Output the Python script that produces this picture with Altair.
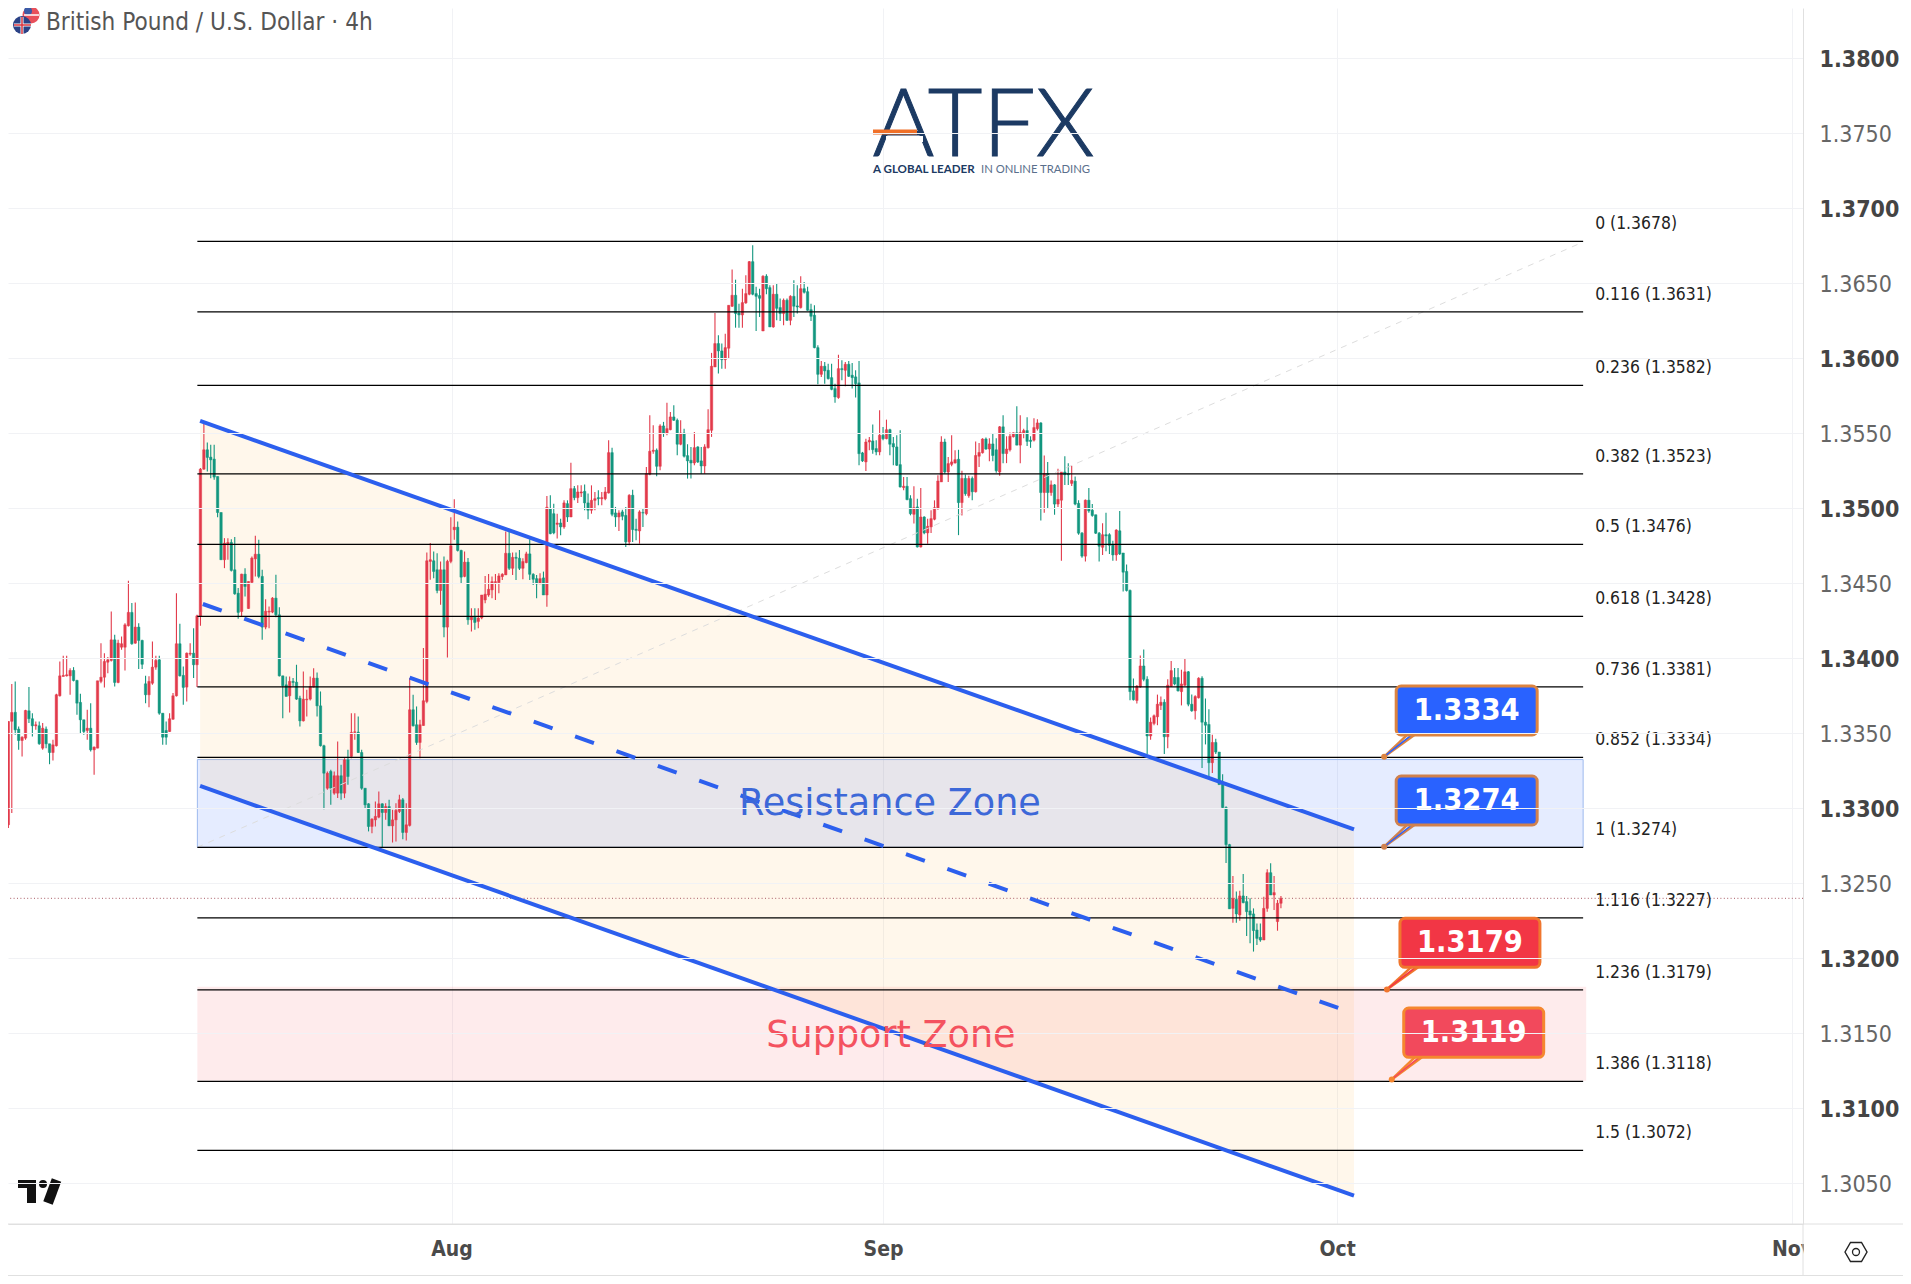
import altair as alt
import pandas as pd

# Candles as (open, high, low, close), in pips above 1.3000
JUL_CANDLES = [
(273.9,283.4,265.7,277.9),(278,294.6,276.8,289.7),(289,358,286.8,357.9),(358,382.8,296.8,363.9),(364,384.6,349,352.3),
(352.8,354.6,339,345.2),(345.2,348,334.6,347.4),(346.8,365.7,345.7,365.2),(365,380.8,356.8,359.7),(359.7,363.4,347.9,355),
(355,357.9,352.3,355.7),(355,357.9,342.3,343),(340.1,356.8,339,353.4),(352.8,354.6,340.1,343),(343,343,329.4,337.2),
(337.2,345.7,331.9,342.3),(341.7,376.3,341.2,375.7),(375,397.9,374.6,388.3),(387.9,401.7,387.9,388.6),(388.3,401.7,387.9,389),
(388.3,393.4,375.7,391.9),(391.9,394.1,384.6,385.2),(385.2,385.7,362.3,370.1),(370.6,376.3,350.1,359),(359,359,349,351.2),
(351.9,365.7,345.7,353.4),(353.4,370.1,337.9,339),(339,341.2,322.3,340.8),(340.1,385,340.1,385),(384.6,410.1,383.4,387.4),
(387.4,403.4,380.6,397.9),(397.4,400.8,390.1,399),(398.6,431.2,397.9,412.3),(412.3,415.7,381.2,383.9),(383.9,412.3,383.4,410.1),
(407.4,414.6,405.7,409.7),(407.4,423.4,391.9,422.3),(421.7,451.7,421.2,430.6),(430.6,436.8,409,409.7),(410.1,437.2,409.7,420.8),
(420.8,423.4,392.8,411.9),(411.9,412.3,392.8,396),(383,388.3,370.1,375.7),(375.7,388,367.4,384.6),(383.4,411.2,382.3,394.1),
(394.1,401.7,392.3,398.6),(399,401.7,362.3,363.4),(363.4,363.4,342.3,347.4),(351.9,357.9,342.3,347.4),(351.2,363.4,350.8,359.7),
(359.4,376.8,359,375),(375,443.4,374.6,409.7),(409.7,423,387.9,388.3),(388.6,394.6,369,380.6),(380.8,403.9,371.2,403.4),
(402.8,410.1,401.7,403.4),(403.4,420.1,386.8,395.7),(395.7,429,380.8,428.3),(427.9,526.8,421.7,526.1),(526.1,557.9,525.7,539),
(539,543.9,524.6,533.9),(534.1,542.3,520.1,532.3),(532.8,542.3,519,520.8),(521.2,521.2,494.1,497.2),(497.2,497.2,465.7,465.7),
(465.7,480.1,460.1,476.8),(476.3,480.1,465.7,477.2),(477.2,479.4,457.9,458.6),(459,480.8,442.3,443),(443.4,446.8,426.3,430.6),
(431.2,456.3,427.9,456.1),(456.1,460.1,441.2,447.9),(433.2,451.2,433,451.2),(450.6,467.9,450.1,466.8),(466.3,481.7,454.6,469.4),
(469.4,479,453.4,454.6),(454.6,459,412.3,420.8),(420.8,439.4,419.4,431.4),(430.8,434.6,420.1,431.4),(430.8,440.8,430.1,440.1),
(440.1,455.7,427.4,429),(429,434.1,387.9,388.3),(388.3,388.3,360.1,381.7),(382.3,387.9,374.6,374.6),(375,387.9,363.9,384.6),
(384.6,386.8,381.2,383.9),(384.1,395.7,372.3,372.8),(373.4,375,354.6,358.3),(358.3,391.2,357.9,372.8),(372.3,379,361.2,372.8),
(372.8,387.9,371.9,381.2),(380.8,393.4,380.6,386.8),(386.8,390.6,361.2,368.3),(368.3,377.9,341.2,341.7),(341.7,342.3,299.4,323.4),
(313.4,324.6,312.3,323.4),(324.6,325.7,302.3,313.4),(310.1,324.6,309,321.7),(310.1,344.6,306.8,321.7),(321.7,329,305.7,310.1),
(310.1,333.4,306.8,332.3),(332.3,339,315.7,321.2),(334.6,363.4,333.4,350.6),(350.6,363.4,345.7,351),(350.8,361.2,336.8,337.2),
(337.2,339,312.3,313.4),(313.4,313.4,300.1,302.3),(303,303.4,284.6,287.9),(287.9,293.4,283.4,292.8),(292.3,304.6,287.9,294.6),
(294.1,311.2,293.4,303),(303,303.4,274.1,297.2),(297.2,303.4,292.3,301.2),(301.2,305.7,288.3,288.3),(288.3,299,277.2,292.3),
(292.3,303.4,277.9,298.6),(297.9,309,296.8,305.7),(305.7,306.8,279.4,283.9),(283.9,303.4,278.6,289),(288.6,386.8,287.9,365.7),
(365.7,375.7,354.6,355),(355.7,367.9,342.3,343.9),(343.9,359,333.4,355.7),(355.2,406.8,355,371.7),(371.2,470.6,370.1,465),
(464.6,476.8,452.3,465.7),(465,471.2,453.4,457.9),(459,470.1,443.4,445.2),(445.2,464.6,435.7,459),(459,467.9,414,420.8),
(420.8,465.7,400.6,464.6),
]
AUG_CANDLES = [
(464.6,494.1,463.4,475),(485.7,506.1,479,487.4),(487.4,491.2,471.2,471.9),(471.9,472.3,450.1,454.1),(454.6,471.2,454.1,464.1),
(464.1,466.8,422.3,425.7),(425.7,433.4,417.9,427.9),(427.4,433.4,419,423.9),(424.6,433.4,420,426.8),(427,442.2,426,442.2),
(438.9,454.9,436.7,442.7),(442.2,456.2,441.1,446),(445.6,454.5,440,451.1),(450.4,456.2,438.9,451.1),(450.4,456.7,443.3,454.9),
(454.5,456.7,452.2,456),(455.6,484.5,455.6,470),(470,484.5,458.9,460),(460,470.5,455.6,467.3),(467.3,470.5,452.2,466.7),
(466.7,472.2,458.9,460),(460,466.7,452.7,464.5),(463.8,471.1,463.3,469.6),(469.6,479.3,452.2,456),(456,456.7,448.9,452.7),
(453.1,455.6,440,449.6),(449.6,456.7,449.6,453.1),(453.6,457.8,442.2,442.2),(442.2,508.2,434.4,500.7),(499.8,508.7,482.7,483.1),
(496.4,503.1,482.7,483.6),(489.3,496.4,479.8,490.2),(490.2,493.1,482,487.6),(487.6,505.3,486.4,503.6),(503.1,505.3,490.9,494.2),
(494.2,530.4,494.2,513.1),(513.1,514.9,505.3,507.1),(507.1,515.3,503.6,510.9),(510.2,515.3,507.6,510.9),(511.3,515.8,498.7,503.6),
(503.6,509.8,492.7,498.7),(498.7,515.3,496.4,505.3),(505.3,510.9,498.7,506.4),(507.1,512,502,506.4),(506.4,510.9,502,507.1),
(506.4,514.2,505.3,510.9),(510.2,545.3,509.8,537.1),(537.1,540.4,494.7,496),(496.9,500.9,487.6,494.2),(494.2,498.7,484.9,496.9),
(497.6,499.1,492,494.7),(495.3,500.9,474.2,477.6),(477.6,509.3,475.3,508.7),(508.7,512.4,477.6,485.8),(486,493.1,478.7,485.3),
(484.9,498.7,476.4,497.6),(497.1,499.8,487.6,496.9),(496.4,527.6,495.3,523.1),(522.7,562,522,538),(538,555.3,536.4,538.7),
(538.7,539.8,521.3,528),(528,556,525.3,554.9),(554.9,557.6,547.6,550.2),(550.2,570.4,548.7,553.1),(552.4,564.2,552,560.9),
(560.9,568.7,558.2,558.7),(558.7,559.8,535.3,542.7),(542.7,558.7,542,550.2),(550.2,553.1,533.8,534.7),(535.1,542.7,519.8,531.6),
(532,540.9,519.8,530.2),(530.2,550.9,528.7,540.4),(540.9,541.3,530.2,530.9),(531.6,540.9,523.1,528.2),(528.2,542.7,523.1,540.9),
(540.4,566,539.8,552.4),(552,603.6,547.6,594.7),(594.2,630.2,594.2,609.8),(609.8,615.3,589.8,604.9),(604.9,609.8,593.1,599.1),
(599.1,616.4,593.1,607.1),(606.7,635.3,599.8,635.3),(634.7,659.1,634.2,642),(642,652.4,620.4,629.8),(630.2,636.4,620.4,628.9),
(628.9,646.4,620.4,637.1),(636.9,655.3,636.4,643.1),(642.7,664.9,642,664.4),(664.4,675.3,642,642.7),(643.1,647.6,618.2,641.3),
(641.8,646.4,627.6,640),(618.2,655.3,618.2,654.7),(654.7,656,642.7,646.4),(647.1,648.7,620.9,620.9),(620.9,648.7,620.4,642.7),
(642.7,649.8,625.3,633.3),(633.8,639.8,624.9,629.8),(629.8,639.8,622,638.7),(638.7,639.8,624.9,625.3),(625.3,642,622,641.3),
(641.3,652,627.6,634.7),(634.9,648.7,629.8,634.2),(633.8,654.7,633.1,646.4),(646.4,650.9,643.1,644),(644.4,647.6,631.6,632),
(632.4,636.4,624.9,628),(628.7,635.3,606.7,607.1),(607.1,608.7,582.7,589.3),(589.3,598.2,587.6,594.7),(594.7,597.6,583.1,591.6),
(592,596.4,585.8,586.4),(587.1,596.4,578.7,579.3),(579.8,583.1,570.4,574.2),(573.8,602.4,573.1,593.1),(593.1,598.7,585.3,592.4),
(592,597.6,581.3,596),(596,598.2,587.6,588),(588.7,596.9,579.8,587.1),(587.6,592,573.8,583.1),(583.6,598.2,528.7,536.4),
(536.9,537.6,530.9,531.6),(530.9,546.4,524.9,544.2),(544.2,547.6,538.7,545.3),(544.9,555.8,536.4,539.1),(539.8,545.3,535.3,537.6),
(537.6,565.3,535.3,548.7),
]
SEP_CANDLES = [
(548.7,554.2,545.3,546.4),(546.4,559.1,546,552.4),(552.4,553.1,535.3,542.7),(543.1,547.6,528.7,540.9),(540.9,548.7,528.2,528.7),
(529.1,552,513.8,514.2),(513.8,520.9,512,514.7),(514.7,520.9,505.3,505.8),(506.4,508.7,495.3,496.4),(496,514.7,489.8,500.4),
(500.9,506.4,473.8,474.2),(474.2,513.6,473.8,494.2),(494.2,494.7,482.7,483.6),(483.6,493.1,476.4,488),(487.6,498.7,483.6,493.1),
(492.7,505.3,492,500.4),(499.8,522,499.1,518.2),(517.6,548,517.6,544.2),(544.2,546.4,523.1,524.2),(524.2,534.2,517.6,529.8),
(529.3,548.7,528,530.9),(530.2,538.7,529.8,532.4),(532.7,539,482.1,503.8),(503.8,525,495.2,519.9),(519.9,522.5,508.4,509.7),
(508.4,521.7,507.1,519.9),(519.9,521.2,505.4,511),(511,544.6,510.5,535.2),(534.7,543.6,527.6,537.2),(537,546.7,536.5,546.2),
(546.2,547.2,539,539.5),(539.5,546.7,531.4,542.9),(542.9,549.8,531.4,535.2),(539,546.7,523.7,525),(524.2,554.9,521.7,554.3),
(554.3,562,530.1,536.5),(536.5,548,530.1,539.5),(539,550.5,537.8,548),(547.7,550.5,547.2,550.3),(550.3,568.1,542.1,542.1),
(542.1,562,530.1,550.5),(550,553,546.7,551.8),(551.8,560.7,541.6,544.6),(545.4,548,540.3,544.6),(545.4,560,544.6,553.8),
(553.1,559.4,551.8,556.9),(556.9,557.4,491.8,510.5),(510.5,535.2,497,523.2),(523.2,530.9,499.5,510.5),(510.5,518.6,508.4,515.6),
(515.6,516.1,495.7,502.8),(502.8,526.3,500.8,505.9),(505.4,524.2,465,524.2),(524.2,534.7,515.6,522.4),(523,530.1,515.6,522.4),
(516.6,528.3,514.8,518.6),(518.1,521.2,502,502.8),(503.3,505.4,482.4,483.4),(483.4,484.2,467.1,468.1),(468.1,505.9,464.5,505.4),
(505.4,513.5,497,498.2),(498.7,502.8,494.4,495.2),(495.7,495.7,482.9,483.4),(483.4,484.2,464.5,474.7),(474,490,468.9,482.4),
(482.4,497,471.4,481.6),(482.4,483.4,469.6,475.3),(475.8,478.3,465,468.9),(468.9,486,465,485.5),(485,498.2,468.9,469.6),
(470.2,470.2,444.6,457.4),(457.9,462.5,444.6,445.2),(445.2,445.9,372,377.8),(378.3,386.5,371.9,372.4),(371.9,382.2,369.9,381.4),
(380.9,401.8,380.4,394.9),(394.9,405.9,384.7,386),(386,388,336.2,348.2),(348.2,360.5,345.7,357.4),(356.6,362.5,355.4,361.7),
(361,375.8,355.4,369.4),(368.6,374.5,365.6,370.7),(370.7,372.7,336.2,347.7),(347.7,386,340,382.1),(381.4,398.2,380.9,391.8),
(387.2,393.6,382.1,382.9),(387.2,393.6,377.8,378.3),(377.8,392.4,368.6,382.9),(382.1,400,381.4,391),(391,391.6,368.1,369.4),
(369.4,375.8,364.3,365),(365,375.3,359.2,374.5),(373.7,387.3,373.2,386.7),(386.7,388,326.8,357.4),(357.4,373.2,342.6,355.4),
(355.9,366.1,320.9,330.4),(330.4,349,323.5,343.9),(343.9,346.4,336.2,337.5),(337.5,337.5,315.8,315.8),(317.1,322.7,299.8,300.5),
(300.5,301.3,263.5,275.8),(275.8,276.3,233,233),(233.3,254.9,223.8,240),(239.3,244.5,223.8,229.6),(228.9,245.1,225.1,241.6),
(241.6,256.2,236.7,237.1),(237.8,241.6,214.9,231.1),(231.6,240,210,228.9),(229.6,233.3,204.5,218.5),(218.9,223.3,208.9,213.3),
(214,223.3,211.1,212.2),(212.2,241.1,212.2,233.3),(233.3,259.3,231.1,257.1),(257.1,263.3,242.2,242.2),(242.2,254.9,232.2,243.8),
(224.5,238.9,218.4,236.7),(236.7,241.6,233.3,240),
]

PRICE_TICKS = [1.305, 1.31, 1.315, 1.32, 1.325, 1.33, 1.335, 1.34, 1.345, 1.35, 1.355, 1.36, 1.365, 1.37, 1.375, 1.38]
MONTH_NAMES = ["Aug", "Sep", "Oct", "Nov"]
MONTH_BARS = [131.2, 257, 389.4, 522]

FIB_RATIOS = ["0", "0.116", "0.236", "0.382", "0.5", "0.618", "0.736", "0.852", "1", "1.116", "1.236", "1.386", "1.5"]
FIB_PRICES = [1.3678, 1.3631, 1.3582, 1.3523, 1.3476, 1.3428, 1.3381, 1.3334, 1.3274, 1.3227, 1.3179, 1.3118, 1.3072]
LAST_PRICE = 1.3240

FIB_BARS = [57.1, 461.1]
DIAG_PRICES = [1.3274, 1.36775]
CHANNEL_BARS = [57.9, 394.3]
CHANNEL_UPPER = [1.35582, 1.32860]
CHANNEL_LOWER = [1.33149, 1.30418]
CHANNEL_MID_BARS = [58.7, 389.7]
CHANNEL_MID = [1.34362, 1.31669]

CALLOUT_TEXT = ["1.3334", "1.3274", "1.3179", "1.3119"]
CALLOUT_FILL = ["#2962ff", "#2962ff", "#f23645", "#f2495c"]
CALLOUT_EDGE = ["#dd8440", "#d0814e", "#f0762e", "#f5872f"]
CALLOUT_LEFT = [406.6, 406.6, 407.7, 408.8]
CALLOUT_RIGHT = [447.7, 447.7, 448.5, 449.6]
CALLOUT_TOP = [1.33815, 1.33215, 1.32267, 1.31669]
CALLOUT_BOTTOM = [1.33489, 1.32889, 1.31940, 1.31340]
CALLOUT_TIP_BAR = [403.1, 403.1, 403.9, 405.3]
CALLOUT_TIP_PRICE = [1.33344, 1.32744, 1.31793, 1.31193]

# x is a bar number; one bar is 3.43 px wide
XS = alt.Scale(domain=[1.895, 525.2], nice=False, zero=False, padding=0)
YS = alt.Scale(domain=[1.30229, 1.38335], nice=False, zero=False, padding=0)
FONT = "DejaVu Sans Condensed, DejaVu Sans"
UP, DOWN = "#e23a4b", "#12967f"
GRID = "#f1f2f5"
EDGE = "#e0e0e0"
BOLD_TICK = "round(datum.value*10000)%100==0"
month_expr = "".join(f"datum.value<{b + 1}?'{m}':" for m, b in zip(MONTH_NAMES, MONTH_BARS)) + "''"

AX = alt.Axis(
    values=MONTH_BARS, labelExpr=month_expr, grid=True, gridColor=GRID, gridWidth=1,
    domainColor=EDGE, ticks=False, labelFont=FONT, labelFontSize=21, labelFontWeight="bold",
    labelColor="#4a4a4a", labelPadding=14, labelOverlap=False, labelBound=False, labelFlush=False, zindex=0)
AY = alt.Axis(
    orient="right", values=PRICE_TICKS, format=".4f", grid=True, gridColor=GRID, gridWidth=1,
    domainColor=EDGE, ticks=False, labelFont=FONT, labelFontSize=23, labelPadding=16, labelOffset=1,
    labelOverlap=False, labelBound=False, labelFlush=False, zindex=1,
    labelFontWeight={"condition": {"test": BOLD_TICK, "value": "bold"}, "value": "normal"},
    labelColor={"condition": {"test": BOLD_TICK, "value": "#444444"}, "value": "#666666"})


def X(f):
    return alt.X(f, type="quantitative", scale=XS, axis=AX, title=None)


def Y(f):
    return alt.Y(f, type="quantitative", scale=YS, axis=AY, title=None)


rows = JUL_CANDLES + AUG_CANDLES + SEP_CANDLES
candles = pd.DataFrame(rows, columns=["o", "h", "l", "c"]) / 10000 + 1.3
candles["bar"] = range(len(candles))
candles["dir"] = ["up" if c >= o else "down" for o, c in zip(candles.o, candles.c)]
COLOR = alt.Color("dir:N", scale=alt.Scale(domain=["up", "down"], range=[UP, DOWN]), legend=None)

zones = pd.DataFrame({"x": [FIB_BARS[0]], "x2": [FIB_BARS[1]], "top": [1.33325], "bot": [1.3274]})
res_zone = alt.Chart(zones).mark_rect(fill="#2962ff", fillOpacity=0.12, stroke="#9db9ee", strokeWidth=1).encode(
    x=X("x"), x2="x2", y=Y("top"), y2="bot")
sup = pd.DataFrame({"x": [FIB_BARS[0]], "x2": [462.0], "top": [1.3181], "bot": [1.31184]})
sup_zone = alt.Chart(sup).mark_rect(fill="#f23645", fillOpacity=0.1).encode(
    x=X("x"), x2="x2", y=Y("top"), y2="bot")

channel = pd.DataFrame({"bar": CHANNEL_BARS, "up": CHANNEL_UPPER, "low": CHANNEL_LOWER})
channel_fill = alt.Chart(channel).mark_area(color="#ff9800", opacity=0.08).encode(
    x=X("bar"), y=Y("up"), y2="low")

wicks = alt.Chart(candles).mark_rule(strokeWidth=1.1).encode(x=X("bar"), y=Y("l"), y2="h", color=COLOR)
bodies = alt.Chart(candles).mark_bar(size=2.4, strokeWidth=0.5).encode(
    x=X("bar"), y=Y("o"), y2="c", color=COLOR,
    stroke=alt.Stroke("dir:N", scale=alt.Scale(domain=["up", "down"], range=[UP, DOWN]), legend=None))

fib = pd.DataFrame({"ratio": FIB_RATIOS, "price": FIB_PRICES})
fib["x"], fib["x2"] = FIB_BARS
fib["label"] = [f"{r} ({p:.4f})" for r, p in zip(FIB_RATIOS, FIB_PRICES)]
fib["lx"] = 464.6
fib_lines = alt.Chart(fib).mark_rule(color="#000000", strokeWidth=1.25).encode(x=X("x"), x2="x2", y=Y("price"))
fib_text = alt.Chart(fib).mark_text(font=FONT, fontSize=17.4, align="left", baseline="middle", dy=-17, color="#222222").encode(
    x=X("lx"), y=Y("price"), text="label")

diag = alt.Chart(pd.DataFrame({"x": FIB_BARS, "y": DIAG_PRICES})).mark_line(color="#dddddd", strokeWidth=1, strokeDash=[6, 6]).encode(x=X("x"), y=Y("y"))

last_line = alt.Chart(pd.DataFrame({"y": [LAST_PRICE]})).mark_rule(color="#a85a64", strokeWidth=1, strokeDash=[1, 2.4]).encode(y=Y("y"))

ch_up = alt.Chart(channel).mark_line(color="#2c5fee", strokeWidth=4).encode(x=X("bar"), y=Y("up"))
ch_low = alt.Chart(channel).mark_line(color="#2c5fee", strokeWidth=4).encode(x=X("bar"), y=Y("low"))
ch_mid = alt.Chart(pd.DataFrame({"bar": CHANNEL_MID_BARS, "y": CHANNEL_MID})).mark_line(
    color="#2c5fee", strokeWidth=4, strokeDash=[20, 23.9]).encode(x=X("bar"), y=Y("y"))

zone_text = alt.Chart(pd.DataFrame({
    "x": [259.0, 259.3], "y": [1.33026, 1.31483], "t": ["Resistance Zone", "Support Zone"], "k": ["r", "s"]})
).mark_text(font="DejaVu Sans", fontSize=36.6, baseline="middle", align="center").encode(
    x=X("x"), y=Y("y"), text="t",
    color=alt.Color("k:N", scale=alt.Scale(domain=["r", "s"], range=["#3d68d8", "#f4525f"]), legend=None))

call_layers = []
for i in range(4):
    base = {"l": CALLOUT_LEFT[i], "r": CALLOUT_RIGHT[i], "t": CALLOUT_TOP[i], "b": CALLOUT_BOTTOM[i]}
    box_mark = alt.Chart(pd.DataFrame([base])).mark_rect(
        fill=CALLOUT_FILL[i], stroke=CALLOUT_EDGE[i], strokeWidth=3, cornerRadius=5).encode(
        x=X("l"), x2="r", y=Y("t"), y2="b")
    for off, col, w in [(3.2, CALLOUT_EDGE[i], 2.5), (5.3, CALLOUT_EDGE[i], 2.5), (4.5, CALLOUT_FILL[i], 1.5)]:
        tail = alt.Chart(pd.DataFrame({
            "x": [CALLOUT_TIP_BAR[i], CALLOUT_LEFT[i] + off],
            "y": [CALLOUT_TIP_PRICE[i], CALLOUT_BOTTOM[i]]})).mark_line(color=col, strokeWidth=w).encode(x=X("x"), y=Y("y"))
        call_layers.append(tail)
    tip = alt.Chart(pd.DataFrame({"x": [CALLOUT_TIP_BAR[i]], "y": [CALLOUT_TIP_PRICE[i]]})).mark_point(
        filled=True, size=36, opacity=1, color=CALLOUT_EDGE[i]).encode(x=X("x"), y=Y("y"))
    txt = alt.Chart(pd.DataFrame({
        "x": [(CALLOUT_LEFT[i] + CALLOUT_RIGHT[i]) / 2], "y": [(CALLOUT_TOP[i] + CALLOUT_BOTTOM[i]) / 2], "t": [CALLOUT_TEXT[i]]})
    ).mark_text(font=FONT, fontSize=30.5, fontWeight="bold", color="#ffffff", baseline="middle", align="center").encode(
        x=X("x"), y=Y("y"), text="t")
    call_layers += [box_mark, tip, txt]

blank = pd.DataFrame({"a": [0]})


def text(s, px, py, size, color, weight="normal", font=FONT, **kw):
    return alt.Chart(blank).mark_text(text=s, font=font, fontSize=size, fontWeight=weight, color=color, align="left", baseline="alphabetic", **kw).encode(
        x=alt.value(px - 8), y=alt.value(py - 8))


def box(x1, x2, y1, y2, color):
    return alt.Chart(blank).mark_rect(color=color).encode(
        x=alt.value(x1 - 8), x2=alt.value(x2 - 8), y=alt.value(y1 - 8), y2=alt.value(y2 - 8))


def seg(x1, y1, x2, y2, color, w=1):
    return alt.Chart(blank).mark_rule(color=color, strokeWidth=w).encode(
        x=alt.value(x1 - 8), x2=alt.value(x2 - 8), y=alt.value(y1 - 8), y2=alt.value(y2 - 8))


def dot(x, y, r, color, filled=True, shape="circle", w=1):
    return alt.Chart(blank).mark_point(filled=filled, shape=shape, size=(2 * r) ** 2, color=color, opacity=1, strokeWidth=w).encode(
        x=alt.value(x - 8), y=alt.value(y - 8))


chrome = [
    box(1804, 1903, 1225, 1275, "#ffffff"),
    seg(1803, 1224, 1803, 1276, EDGE), seg(8, 1224, 1903, 1224, EDGE),
    seg(8, 1275.5, 1903, 1275.5, EDGE),
    # header
    dot(31, 15, 8.5, "#e8505b"), dot(28, 11, 4, "#3b5aa6"), seg(24, 15, 39, 15, "#ffffff", 1.5),
    dot(22, 25, 9, "#2b4286"), seg(14, 25, 31, 25, "#ffffff", 3), seg(22, 17, 22, 34, "#ffffff", 3),
    seg(14, 25, 31, 25, "#d8343f", 1.5), seg(22, 17, 22, 34, "#d8343f", 1.5),
    text("British Pound / U.S. Dollar · 4h", 46, 30, 24.1, "#555555"),
    # logo
    text("ATFX", 872.5, 156, 94.4, "#1c3a63", 300, "Lato", stroke="#1c3a63", strokeWidth=1),
    seg(886, 139, 923, 139, "#ffffff", 6),
    seg(873, 132, 917, 132, "#f07028", 5),
    text("A GLOBAL LEADER", 873, 173, 11.6, "#1c3a63", "bold", "Lato"),
    text("IN ONLINE TRADING", 981, 173, 11.3, "#5a6f8c", "normal", "Lato"),
    # TradingView mark
    box(18, 36, 1180, 1188, "#111111"), box(27, 36, 1180, 1203, "#111111"), dot(43, 1184, 4, "#111111"),
    seg(56.5, 1180, 48, 1203, "#111111", 10),
    # settings
    dot(1856, 1252, 11, "#222222", False, "M-1,0L-0.5,-0.87L0.5,-0.87L1,0L0.5,0.87L-0.5,0.87Z", 1.4),
    dot(1856, 1252, 3.5, "#222222", False, "circle", 1.3),
]

layers = [res_zone, sup_zone, channel_fill, wicks, bodies, diag, last_line, fib_lines, fib_text,
          ch_up, ch_low, ch_mid, zone_text] + call_layers + chrome

chart = alt.layer(*layers).resolve_scale(color="independent", stroke="independent").properties(
    width=1795, height=1216, background="#ffffff",
    padding={"left": 0, "top": 0, "right": 100, "bottom": 52},
    autosize=alt.AutoSizeParams(type="none"),
).configure_view(stroke=None)

chart.save("out.html", embed_options={"renderer": "svg", "actions": False})
